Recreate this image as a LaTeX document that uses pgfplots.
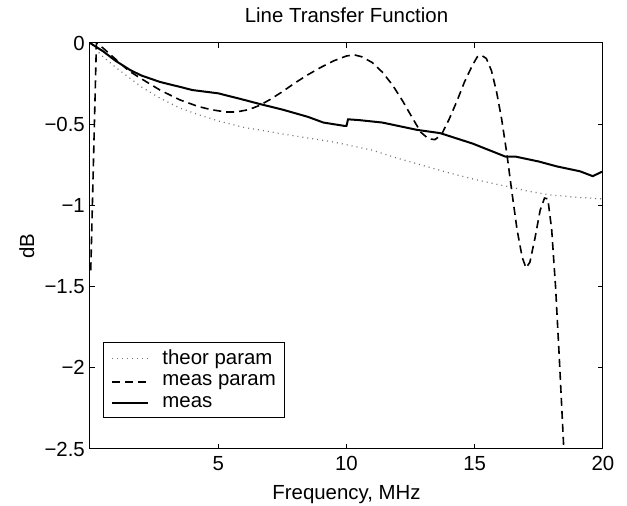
\documentclass[border=0pt]{standalone}
\usepackage{fontspec}
\setmainfont{Liberation Sans}
\usepackage{pgfplots}
\pgfplotsset{compat=1.18}
\begin{document}
\fontsize{10.2}{12}\selectfont
\begin{tikzpicture}
\useasboundingbox (-45pt,-28.5pt) rectangle (268.5pt,224.5pt);
\begin{axis}[
  at={(0,0)}, anchor=south west,
  scale only axis, width=256.5pt, height=203pt,
  xmin=0, xmax=20, ymin=-2.5, ymax=0,
  xtick={5,10,15,20}, xticklabels={5,10,15,20},
  ytick={-2.5,-2,-1.5,-1,-0.5,0},
  yticklabels={−2.5,−2,−1.5,−1,−0.5,0},
  tick align=inside, major tick length=2.5pt,
  axis line style={line width=0.5pt},
  tick style={line width=0.5pt, black},
  ticklabel style={font=\fontsize{10.2}{12}\selectfont},
  yticklabel style={xshift=1pt},
  title={Line Transfer Function},
  title style={at={(axis description cs:0.5,1.039)}, anchor=center, font=\fontsize{10.2}{12}\selectfont},
  xlabel={Frequency, MHz},
  xlabel style={at={(axis description cs:0.5,-0.112)}, anchor=center, font=\fontsize{10.2}{12}\selectfont},
  ylabel={dB},
  ylabel style={at={(axis description cs:-0.123,0.5)}, anchor=center, font=\fontsize{10.2}{12}\selectfont},
  legend style={at={(axis description cs:0.0253,0.0764)}, anchor=south west, draw=black, line width=0.5pt,
     font=\fontsize{10.2}{12}\selectfont, inner xsep=2.5pt, inner ysep=1.5pt, row sep=-0.3pt},
  legend cell align=left,
  legend image code/.code={\path (-1.5pt,0pt); \draw[#1] (0pt,0pt) -- (18pt,0pt); \path (22.5pt,0pt);},
]
\addplot[black!55, line width=0.6pt, dash pattern=on 0.5pt off 2pt] coordinates {
(0.1,-0.01)(0.4,-0.07)(1,-0.15)(1.5,-0.21)(2,-0.27)(2.73,-0.34)(3.5,-0.4)(4.2,-0.44)(5,-0.48)(6,-0.52)(6.6,-0.535)(7.5,-0.56)(8.5,-0.585)(9.5,-0.61)(10.1,-0.63)(11,-0.66)(12,-0.71)(13,-0.755)(14,-0.8)(15,-0.84)(16,-0.875)(16.5,-0.89)(17,-0.91)(17.9,-0.935)(19,-0.95)(20,-0.96)
};
\addlegendentry{theor param}
\addplot[black, line width=0.8pt, dash pattern=on 4pt off 2.5pt] coordinates {
(0.03,-1.4)(0.25,0.0)(0.5,-0.03)(1,-0.1)(1.5,-0.17)(2,-0.22)(2.73,-0.29)(3.5,-0.35)(4.2,-0.39)(4.7,-0.41)(5.3,-0.425)(5.7,-0.425)(6.2,-0.41)(6.6,-0.385)(7,-0.35)(7.5,-0.3)(8,-0.245)(8.5,-0.195)(9,-0.15)(9.5,-0.11)(10,-0.08)(10.3,-0.073)(10.6,-0.085)(11,-0.12)(11.4,-0.18)(11.8,-0.26)(12.2,-0.36)(12.6,-0.47)(12.9,-0.55)(13.2,-0.59)(13.45,-0.595)(13.7,-0.565)(14,-0.47)(14.3,-0.36)(14.6,-0.24)(14.9,-0.14)(15.1,-0.085)(15.25,-0.075)(15.45,-0.095)(15.65,-0.17)(15.85,-0.3)(16.05,-0.47)(16.25,-0.68)(16.45,-0.92)(16.65,-1.15)(16.85,-1.32)(17.0,-1.385)(17.15,-1.35)(17.35,-1.2)(17.55,-1.03)(17.72,-0.955)(17.85,-0.96)(18.0,-1.15)(18.15,-1.5)(18.3,-1.95)(18.45,-2.43)(18.5,-2.6)
};
\addlegendentry{meas param}
\addplot[black, line width=1pt] coordinates {
(0,0)(0.5,-0.05)(1,-0.11)(1.56,-0.166)(2,-0.2)(2.73,-0.24)(3.5,-0.27)(4,-0.29)(5,-0.31)(6,-0.35)(6.6,-0.375)(7.5,-0.41)(8.5,-0.455)(9.1,-0.49)(9.9,-0.51)(10.0,-0.51)(10.06,-0.47)(10.5,-0.475)(11.4,-0.49)(12.75,-0.535)(13.65,-0.555)(14.93,-0.62)(16.2,-0.70)(16.6,-0.70)(17.5,-0.73)(18.2,-0.76)(19.1,-0.79)(19.6,-0.82)(20,-0.79)
};
\addlegendentry{meas}
\end{axis}
\end{tikzpicture}
\end{document}
